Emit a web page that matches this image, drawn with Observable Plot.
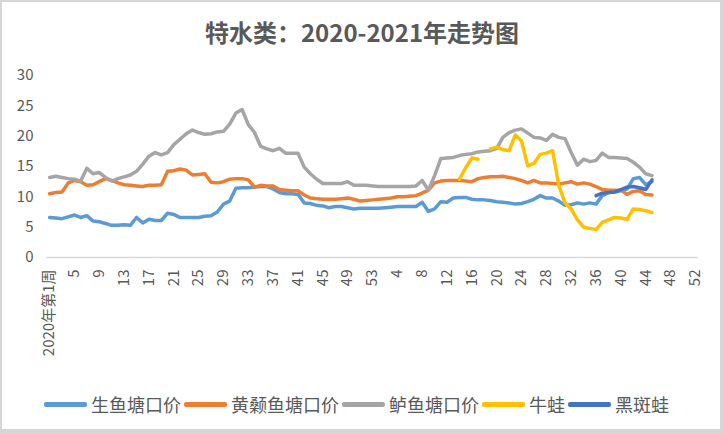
<!DOCTYPE html>
<html><head><meta charset="utf-8">
<script src="https://cdn.jsdelivr.net/npm/d3@7"></script>
<script src="https://cdn.jsdelivr.net/npm/@observablehq/plot@0.6"></script>
<style>
body{margin:0;background:#fff;font-family:"Noto Sans CJK SC","Noto Sans",sans-serif;}
#wrap{position:relative;width:724px;height:434px;overflow:hidden;background:#fff}
#frame{position:absolute;left:0;top:0;width:724px;height:434px;box-sizing:border-box;border-style:solid;border-color:#d6d6d6;border-width:2px 4px 5px 2px;pointer-events:none}
#title{position:absolute;left:0;width:724px;top:15px;text-align:center;font-size:24px;font-weight:bold;color:#595959;line-height:34px}
#chart{position:absolute;left:0;top:0}
#legend{position:absolute;left:44px;top:391px;display:flex;align-items:center;font-size:18px;color:#595959;white-space:nowrap}
#legend .sw{display:inline-block;width:43px;height:5px;border-radius:2px;margin-right:4px}
#legend .lb{margin-right:3px}
</style></head>
<body>
<div id="wrap">
  <div id="chart"></div>
  <div id="title">特水类：2020-2021年走势图</div>
  <div id="legend"></div>
  <div id="frame"></div>
</div>
<script>
// x categories: 2020 weeks 1..53 followed by 2021 weeks 1..52 (105 categories); labels every 4th category
const tickLabels = ["2020年第1周","5","9","13","17","21","25","29","33","37","41","45","49","53",
  "4","8","12","16","20","24","28","32","36","40","44","48","52"];
const categoryCount = 105;
const seriesNames = ["生鱼塘口价","黄颡鱼塘口价","鲈鱼塘口价","牛蛙","黑斑蛙"];
const seriesColors = ["#5B9BD5","#ED7D31","#A5A5A5","#FFC000","#4472C4"];

const shengyu = [6.6,6.5,6.4,6.7,7.0,6.6,6.9,6.0,5.9,5.6,5.3,5.3,5.4,5.3,6.6,5.7,6.3,6.1,6.1,7.3,
  7.1,6.6,6.6,6.6,6.6,6.8,6.9,7.5,8.8,9.3,11.4,11.5,11.5,11.6,11.7,11.7,11.3,10.7,10.5,10.5,
  10.4,9.0,8.9,8.6,8.5,8.2,8.4,8.4,8.2,8.0,8.1,8.1,8.1,8.1,8.2,8.3,8.4,8.4,8.4,8.4,
  9.1,7.6,8.0,9.2,9.1,9.8,9.9,9.9,9.6,9.5,9.5,9.4,9.2,9.1,9.0,8.8,8.9,9.2,9.6,10.2,
  9.8,9.8,9.3,8.6,8.7,9.0,8.8,9.0,8.8,10.2,10.7,10.8,11.0,11.3,13.0,13.2,12.0,12.5];
const huangsang = [10.5,10.7,10.8,12.3,12.7,12.5,11.9,12.0,12.5,13.0,12.7,12.3,12.0,11.9,11.8,11.7,11.9,11.9,12.0,14.2,
  14.3,14.6,14.4,13.6,13.7,13.8,12.4,12.3,12.5,12.9,13.0,13.0,12.8,11.6,11.9,11.8,11.8,11.2,11.1,11.0,
  11.0,10.3,9.8,9.7,9.6,9.6,9.6,9.7,9.8,9.6,9.3,9.4,9.5,9.6,9.7,9.8,10.0,10.0,10.1,10.2,
  10.6,11.1,12.3,12.6,12.7,12.7,12.7,12.6,12.5,13.0,13.2,13.3,13.3,13.4,13.2,13.0,12.7,12.3,12.7,12.3,
  12.3,12.2,12.1,12.3,12.5,12.1,12.3,12.1,11.7,11.2,11.1,11.1,11.1,10.4,10.9,11.0,10.4,10.3];
const luyu = [13.2,13.4,13.2,13.0,12.9,12.6,14.7,13.8,14.0,13.2,12.6,13.0,13.3,13.6,14.2,15.4,16.7,17.3,16.9,17.3,
  18.6,19.5,20.4,21.0,20.6,20.3,20.4,20.7,20.8,22.0,23.8,24.4,21.9,20.6,18.3,17.9,17.6,18.0,17.2,17.2,
  17.2,14.9,13.8,12.9,12.2,12.2,12.2,12.2,12.5,11.9,11.9,11.9,11.8,11.7,11.7,11.7,11.7,11.7,11.7,11.8,
  12.7,11.1,13.5,16.3,16.4,16.5,16.8,17.0,17.1,17.4,17.5,17.6,18.0,19.8,20.6,21.0,21.2,20.5,19.8,19.7,
  19.3,20.3,19.8,19.6,17.3,15.2,16.2,15.8,16.0,17.2,16.5,16.5,16.4,16.3,15.7,14.9,13.8,13.5];
// 2021 data only; starts at category index 66 (2021 week 14)
const niuwaStart = 66;
const niuwa = [12.9,14.8,16.4,16.2,null,17.9,18.2,17.8,17.6,20.2,19.2,15.1,15.5,17.0,17.2,17.6,11.9,9.0,8.0,6.2,
  5.0,4.8,4.6,5.8,6.2,6.6,6.5,6.3,8.0,7.9,7.7,7.4];
// starts at category index 88 (2021 week 36)
const heibanwaStart = 88;
const heibanwa = [10.2,10.6,10.7,10.8,11.2,11.6,11.7,11.5,11.2,12.8];

const yTicks = [0,5,10,15,20,25,30];

function rows(values, start, name) {
  return values.map((v, k) => ({i: start + k, v, s: name}));
}
const allSeries = [
  rows(shengyu, 0, seriesNames[0]),
  rows(huangsang, 0, seriesNames[1]),
  rows(luyu, 0, seriesNames[2]),
  rows(niuwa, niuwaStart, seriesNames[3]),
  rows(heibanwa, heibanwaStart, seriesNames[4])
];
const tickPositions = tickLabels.map((_, k) => k * 4);

const chart = Plot.plot({
  width: 724,
  height: 380,
  marginTop: 75,
  marginBottom: 123,
  marginLeft: 46,
  marginRight: 26,
  style: {color: "#595959", fontFamily: "'Noto Sans CJK SC','Noto Sans',sans-serif", background: "transparent"},
  x: {type: "linear", domain: [-0.5, categoryCount - 0.5]},
  y: {domain: [0, 30]},
  marks: [
    Plot.ruleY([0], {stroke: "#d9d9d9", strokeWidth: 1.5}),
    ...allSeries.map((data, k) => Plot.line(data, {
      x: "i", y: "v", stroke: seriesColors[k], strokeWidth: 3.5,
      strokeLinejoin: "round", strokeLinecap: "round"
    })),
    Plot.axisX(tickPositions, {
      tickSize: 0, tickRotate: -90, tickPadding: 12, fontSize: 15,
      tickFormat: d => tickLabels[d / 4], label: null
    }),
    Plot.axisY(yTicks, {
      tickSize: 0, tickPadding: 13, fontSize: 15, label: null
    })
  ]
});
document.getElementById("chart").appendChild(chart);

const legend = document.getElementById("legend");
seriesNames.forEach((name, k) => {
  const sw = document.createElement("span");
  sw.className = "sw";
  sw.style.background = seriesColors[k];
  const lb = document.createElement("span");
  lb.className = "lb";
  lb.textContent = name;
  legend.appendChild(sw);
  legend.appendChild(lb);
});
</script>
</body></html>
